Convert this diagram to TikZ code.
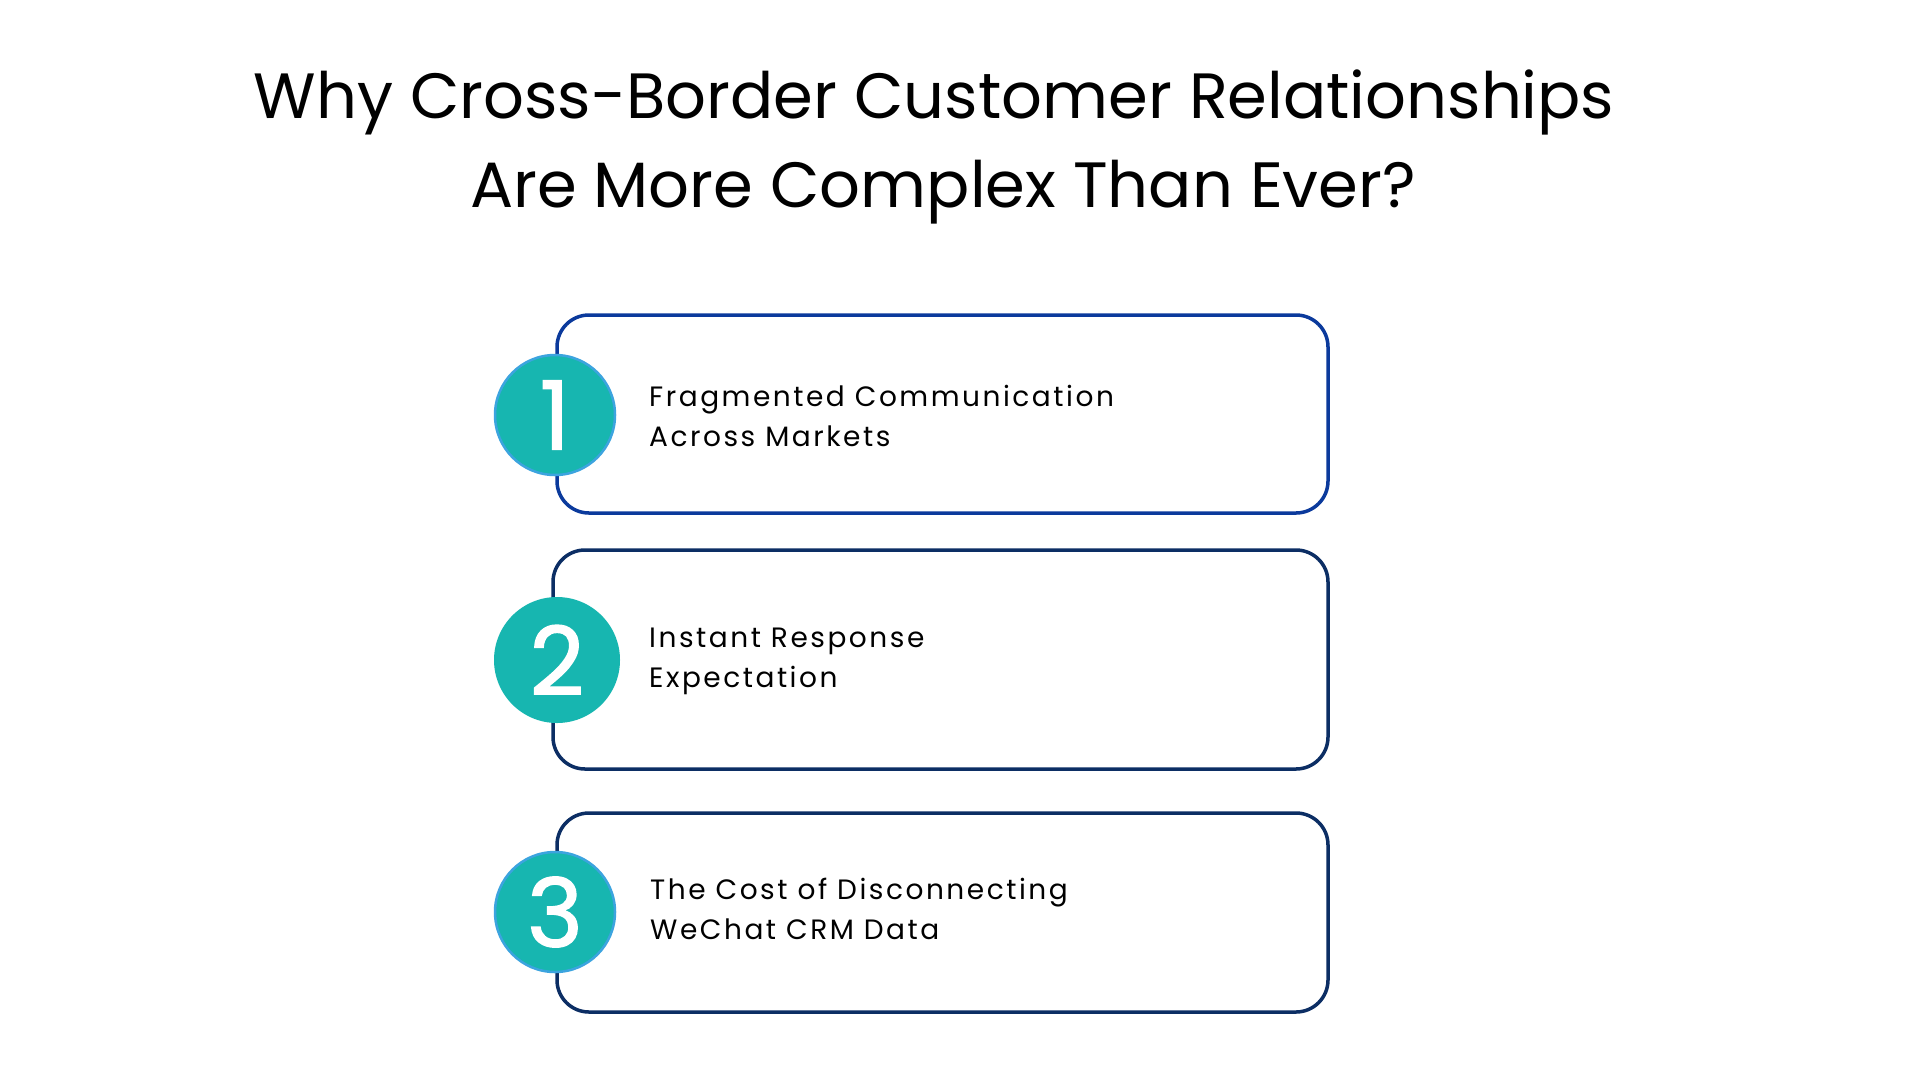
\documentclass[tikz,border=0pt]{standalone}
\usepackage{fontspec}
\setmainfont{Poppins}
\newfontfamily\bodyfont[LetterSpace=9]{Poppins}
\newfontfamily\digitfont[FakeBold=1.5]{Poppins}
\definecolor{boxone}{HTML}{0B3A9C}
\definecolor{boxnavy}{HTML}{0C2E64}
\definecolor{teal}{HTML}{17B6B0}
\definecolor{ringblue}{HTML}{3CA4DF}
\begin{document}
\begin{tikzpicture}[x=1pt,y=-1pt,
  itembox/.style={draw, line width=3.5pt, rounded corners=32pt},
  numdisc/.style={circle, fill=teal, inner sep=0pt, text=white,
    font=\digitfont\fontsize{95}{95}\selectfont},
  itemtext/.style={anchor=base west, inner sep=0pt, align=left,
    font=\bodyfont\fontsize{28}{40}\selectfont},
  titletext/.style={anchor=base, inner sep=0pt, align=center,
    font=\fontsize{64}{89}\selectfont}]
\useasboundingbox[fill=white] (0,0) rectangle (1920,1080);
% title
\node[titletext] (t1) at (934,118) {Why Cross-Border Customer Relationships};
\node[titletext] (t2) at (943,207) {Are More Complex Than Ever?};
% boxes
\draw[itembox, boxone] (557,315) rectangle (1328,513);
\draw[itembox, boxnavy] (553,550) rectangle (1328,769);
\draw[itembox, boxnavy] (557,813) rectangle (1328,1012);
% discs
\node[numdisc, minimum size=120pt, draw=ringblue, line width=2.5pt] (n1) at (555,415) {1};
\node[numdisc, minimum size=126pt] (n2) at (557,660) {2};
\node[numdisc, minimum size=120pt, draw=ringblue, line width=2.5pt] (n3) at (555,912) {3};
% texts (anchor at baseline of the last line)
\node[itemtext] (x1) at (649,446) {Fragmented Communication\\Across Markets};
\node[itemtext] (x2) at (649,687) {Instant Response\\Expectation};
\node[itemtext] (x3) at (650,939) {The Cost of Disconnecting\\WeChat CRM Data};
\end{tikzpicture}
\end{document}
